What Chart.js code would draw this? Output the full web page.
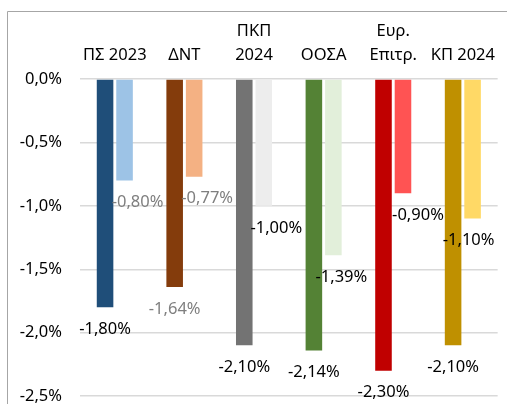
<!DOCTYPE html>
<html>
<head>
<meta charset="utf-8">
<script src="https://cdn.jsdelivr.net/npm/chart.js@4/dist/chart.umd.min.js"></script>
<style>
  html, body { margin: 0; padding: 0; background: #fff; overflow: hidden; }
  #wrap { position: relative; width: 507px; height: 404px; overflow: hidden; }
</style>
</head>
<body>
<div id="wrap"><canvas id="c" width="507" height="424"></canvas></div>
<script>
// Forecast sources (top axis labels)
const categories = [["ΠΣ 2023"], ["ΔΝΤ"], ["ΠΚΠ", "2024"], ["ΟΟΣΑ"], ["Ευρ.", "Επιτρ."], ["ΚΠ 2024"]];
// First bar of each pair and second bar of each pair (percent)
const valuesA = [-1.80, -1.64, -2.10, -2.14, -2.30, -2.10];
const valuesB = [-0.80, -0.77, -1.00, -1.39, -0.90, -1.10];
const yTicks = [0, -0.5, -1.0, -1.5, -2.0, -2.5];

const colorsA = ["#1F4E79", "#843C0C", "#737373", "#548235", "#C00000", "#BF9000"];
const colorsB = ["#9DC3E6", "#F4B183", "#EDEDED", "#E2EFDA", "#FF5353", "#FFD966"];
const labelColorsA = ["#000000", "#7F7F7F", "#000000", "#000000", "#000000", "#000000"];
const labelColorsB = ["#7F7F7F", "#7F7F7F", "#000000", "#000000", "#000000", "#000000"];
const shiftB = [13, 13, 12.5, 8, 15, -4];

const FONT = "'Noto Sans', sans-serif";
const fmt = (v, d) => v.toFixed(d).replace(".", ",") + "%";

// Outer frame line (left and top)
const framePlugin = {
  id: "frame",
  beforeDraw(chart) {
    const ctx = chart.ctx;
    ctx.save();
    ctx.strokeStyle = "#A6A6A6";
    ctx.lineWidth = 1;
    ctx.beginPath();
    ctx.moveTo(7.5, chart.height);
    ctx.lineTo(7.5, 11.5);
    ctx.lineTo(chart.width, 11.5);
    ctx.stroke();
    ctx.restore();
  }
};

// Value labels under the end of each bar
const valueLabels = {
  id: "valueLabels",
  afterDatasetsDraw(chart) {
    const ctx = chart.ctx;
    ctx.save();
    ctx.font = "16.5px " + FONT;
    ctx.textAlign = "center";
    ctx.textBaseline = "middle";
    chart.data.datasets.forEach((ds, di) => {
      const meta = chart.getDatasetMeta(di);
      meta.data.forEach((bar, i) => {
        const v = ds.data[i];
        const dx = di === 1 ? shiftB[i] : 0;
        ctx.fillStyle = di === 0 ? labelColorsA[i] : labelColorsB[i];
        ctx.fillText(fmt(v, 2), bar.x + dx, bar.y + 22);
      });
    });
    ctx.restore();
  }
};

new Chart(document.getElementById("c"), {
  type: "bar",
  data: {
    labels: categories,
    datasets: [
      { data: valuesA, backgroundColor: colorsA, barPercentage: 0.85, categoryPercentage: 0.56 },
      { data: valuesB, backgroundColor: colorsB, barPercentage: 0.85, categoryPercentage: 0.56 }
    ]
  },
  options: {
    responsive: false,
    animation: false,
    devicePixelRatio: 1,
    layout: { padding: { left: 0, right: 0, top: 0, bottom: 10 } },
    plugins: { legend: { display: false }, tooltip: { enabled: false } },
    scales: {
      x: {
        position: "top",
        grid: { display: false, drawTicks: false },
        border: { display: false },
        ticks: {
          color: "#000000",
          padding: 12,
          maxRotation: 0,
          autoSkip: false,
          font: { family: FONT, size: 16.5, lineHeight: 1.45 }
        },
        afterFit(scale) { scale.height = 79; }
      },
      y: {
        min: -2.5,
        max: 0,
        afterBuildTicks(scale) { scale.ticks = yTicks.map(v => ({ value: v })); },
        grid: { color: "#D9D9D9", lineWidth: 1.5, drawTicks: false },
        border: { display: false },
        ticks: {
          color: "#000000",
          padding: 18,
          font: { family: FONT, size: 16.5 },
          callback: v => fmt(v, 1)
        },
        afterFit(scale) { scale.width = 80; }
      }
    }
  },
  plugins: [framePlugin, valueLabels]
});
</script>
</body>
</html>
